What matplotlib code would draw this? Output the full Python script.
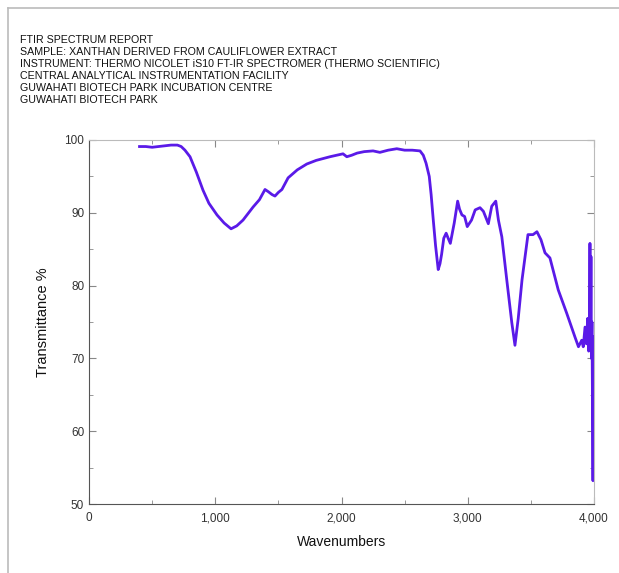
import matplotlib
matplotlib.use("Agg")
import matplotlib.pyplot as plt
from matplotlib.lines import Line2D
from matplotlib.ticker import MultipleLocator, FuncFormatter

header = [
    "FTIR SPECTRUM REPORT",
    "SAMPLE: XANTHAN DERIVED FROM CAULIFLOWER EXTRACT",
    "INSTRUMENT: THERMO NICOLET iS10 FT-IR SPECTROMER (THERMO SCIENTIFIC)",
    "CENTRAL ANALYTICAL INSTRUMENTATION FACILITY",
    "GUWAHATI BIOTECH PARK INCUBATION CENTRE",
    "GUWAHATI BIOTECH PARK",
]

# wavenumber (cm-1)
wn = [400, 450, 500, 550, 600, 650, 700, 730, 760, 800, 850, 903, 950, 1014,
      1070, 1125, 1170, 1220, 1260, 1300, 1350, 1394, 1420, 1450, 1473, 1500,
      1528, 1577, 1650, 1725, 1800, 1909, 1960, 2012, 2042, 2080, 2124, 2180,
      2250, 2304, 2370, 2438, 2500, 2560, 2622, 2648, 2670, 2695, 2710, 2727,
      2745, 2766, 2780, 2793, 2810, 2829, 2845, 2862, 2893, 2920, 2935, 2954,
      2975, 2996, 3030, 3059, 3097, 3124, 3163, 3190, 3222, 3243, 3270, 3309,
      3349, 3374, 3400, 3430, 3477, 3517, 3548, 3580, 3612, 3651, 3717, 3784,
      3850, 3877, 3903, 3915, 3929, 3940, 3950, 3958, 3964, 3968, 3972, 3976,
      3980, 3984, 3988, 3992, 3996, 4000]
# transmittance (%)
trans = [99.1, 99.1, 99.0, 99.1, 99.2, 99.3, 99.3, 99.1, 98.6, 97.7, 95.6,
         93.1, 91.3, 89.7, 88.6, 87.8, 88.2, 89.0, 89.9, 90.8, 91.8, 93.2,
         92.9, 92.5, 92.3, 92.8, 93.2, 94.8, 95.9, 96.7, 97.2, 97.7, 97.9,
         98.1, 97.7, 97.9, 98.2, 98.4, 98.5, 98.3, 98.6, 98.8, 98.6, 98.6,
         98.5, 97.9, 96.8, 95.0, 92.5, 89.0, 85.5, 82.2, 83.0, 84.3, 86.5,
         87.2, 86.5, 85.8, 88.6, 91.6, 90.5, 89.7, 89.5, 88.1, 89.0, 90.4,
         90.7, 90.2, 88.5, 90.9, 91.6, 89.0, 86.7, 80.8, 74.9, 71.8, 75.5,
         80.8, 87.0, 87.0, 87.4, 86.3, 84.5, 83.8, 79.4, 76.2, 72.9, 71.6,
         72.5, 71.6, 74.3, 72.0, 75.5, 71.0, 76.0, 85.8, 72.0, 84.0, 70.0,
         75.0, 64.0, 53.2, 73.0, 72.0]

plt.rcParams["font.family"] = ["Liberation Sans", "DejaVu Sans"]

fig = plt.figure(figsize=(6.19, 5.73), dpi=100)
ax = fig.add_axes([0.1438, 0.1204, 0.8158, 0.6353])

# page border
fig.add_artist(Line2D([8 / 619, 1], [1 - 8 / 573, 1 - 8 / 573], color="#bbbbbb", lw=1.2))
fig.add_artist(Line2D([8 / 619, 8 / 619], [0, 1 - 8 / 573], color="#bbbbbb", lw=1.2))

for i, line in enumerate(header):
    fig.text(20 / 619, 1 - (40 + 12 * i) / 573, line, fontsize=7.7, va="center",
             ha="left", color="#111111")

ax.plot(wn, trans, color="#5a1ae8", lw=2.0)

ax.set_xlim(0, 4000)
ax.set_ylim(50, 100)
ax.xaxis.set_major_locator(MultipleLocator(1000))
ax.xaxis.set_minor_locator(MultipleLocator(500))
ax.yaxis.set_major_locator(MultipleLocator(10))
ax.yaxis.set_minor_locator(MultipleLocator(5))
ax.xaxis.set_major_formatter(FuncFormatter(lambda v, p: f"{int(v):,}"))

ax.tick_params(which="both", direction="in", top=True, right=True,
               color="#888888", labelsize=8.5, labelcolor="#333333")
ax.tick_params(which="major", length=5)
ax.tick_params(which="minor", length=3)
ax.tick_params(axis="x", pad=6)

ax.spines["left"].set_color("#555555")
ax.spines["bottom"].set_color("#555555")
ax.spines["top"].set_color("#bbbbbb")
ax.spines["right"].set_color("#bbbbbb")

ax.set_xlabel("Wavenumbers", fontsize=10, labelpad=8, color="#111111")
ax.set_ylabel("Transmittance %", fontsize=10.5, labelpad=10, color="#111111")

fig.savefig("out.png", dpi=100)
